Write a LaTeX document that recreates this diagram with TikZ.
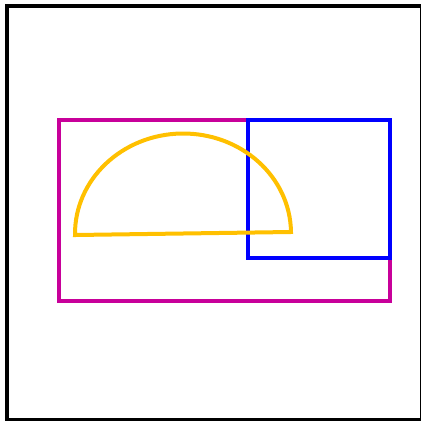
\documentclass[tikz,border=0pt]{standalone}
\usepackage{tikz}
\usepackage{xcolor}
\definecolor{Frame}{HTML}{000000}
\definecolor{Plum}{HTML}{C8009A}
\definecolor{Box}{HTML}{0000FF}
\definecolor{Sun}{HTML}{FFC000}

\begin{document}
\begin{tikzpicture}[x=1pt,y=-1pt]
\useasboundingbox (0,0) rectangle (421,421);
\draw[Frame,line width=4pt] (7,5.5) rectangle (421.5,420);
\draw[Plum,line width=4pt] (58.5,119.5) rectangle (389.5,300.5);
\draw[Box,line width=4pt] (248,119.5) rectangle (389.5,257.5);
\begin{scope}[shift={(183,233.5)},rotate=0.8]
\draw[Sun,line width=4pt,line join=miter] (108,0) arc[start angle=0,end angle=-180,x radius=108,y radius=100] -- cycle;
\end{scope}
\end{tikzpicture}
\end{document}
